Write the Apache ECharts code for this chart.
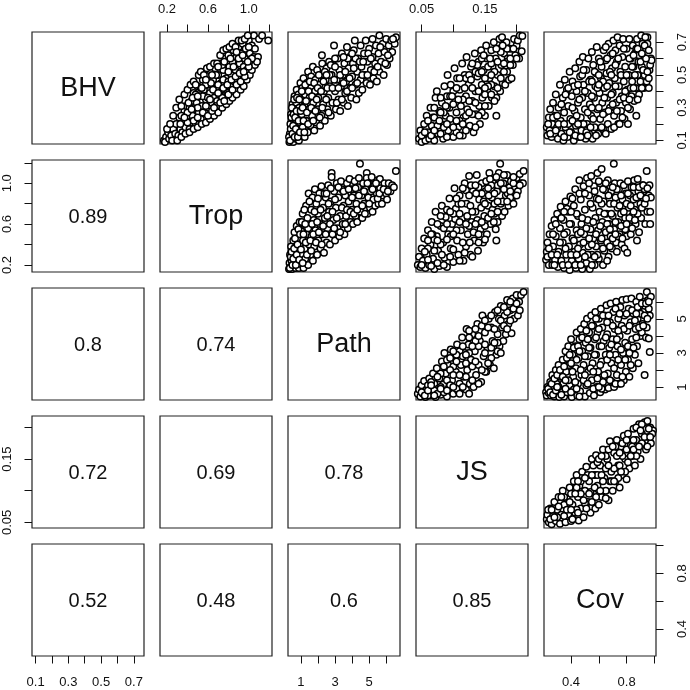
<!DOCTYPE html>
<html><head><meta charset="utf-8">
<style>html,body{margin:0;padding:0;background:#fff}#c{width:690px;height:690px}</style>
<script src="https://cdn.jsdelivr.net/npm/echarts@6/dist/echarts.min.js"></script>
</head><body><div id="c"></div>
<script>
const names = ["BHV","Trop","Path","JS","Cov"];
const corrValues = [["0.89"],["0.8","0.74"],["0.72","0.69","0.78"],["0.52","0.48","0.6","0.85"]];
const rangeBHV = [0.078,0.762], rangeTrop = [0.131,1.227], rangePath = [0.24,6.81], rangeJS = [0.0411,0.2180], rangeCov = [0.205,1.012];
const ticksBHV = [0.1,0.2,0.3,0.4,0.5,0.6,0.7], labelsBHV = [0.1,0.3,0.5,0.7];
const ticksTrop = [0.2,0.4,0.6,0.8,1.0,1.2], labelsTrop = [0.2,0.6,1.0];
const ticksPath = [1,2,3,4,5,6], labelsPath = [1,3,5];
const ticksJS = [0.05,0.10,0.15,0.20], labelsJS = [0.05,0.15];
const ticksCov = [0.4,0.6,0.8,1.0], labelsCov = [0.4,0.8];

const tropBHV = [[.17,.10],[.19,.12],[.18,.09],[.22,.11],[.21,.15],[.24,.13],[.26,.17],[.25,.10],[.28,.14],[.29,.20],[.31,.13],[.32,.24],[.33,.17],[.35,.15],[.36,.21],[.37,.28],[.38,.18],[.39,.31],[.41,.25],[.42,.17],[.43,.21],[.44,.34],[.45,.29],[.46,.39],[.47,.24],[.48,.20],[.49,.33],[.5,.43],[.51,.27],[.52,.37],[.53,.23],[.54,.31],[.55,.47],[.56,.41],[.57,.27],[.58,.35],[.59,.50],[.6,.44],[.61,.30],[.62,.39],[.63,.52],[.64,.33],[.65,.47],[.66,.36],[.67,.54],[.68,.42],[.69,.34],[.7,.50],[.71,.38],[.72,.57],[.73,.45],[.74,.36],[.75,.53],[.76,.41],[.77,.60],[.78,.48],[.79,.39],[.8,.62],[.81,.55],[.82,.43],[.83,.50],[.84,.58],[.85,.65],[.86,.46],[.87,.53],[.88,.61],[.89,.49],[.9,.67],[.91,.57],[.92,.52],[.93,.63],[.94,.69],[.95,.55],[.96,.60],[.97,.66],[.98,.53],[1.0,.71],[1.01,.63],[1.02,.58],[1.03,.68],[1.05,.74],[1.05,.61],[1.06,.66],[1.09,.61],[1.1,.72],[1.13,.74],[1.19,.71],[.4,.21],[.45,.25],[.5,.30],[.55,.37],[.6,.36],[.65,.41],[.7,.44],[.75,.47],[.8,.52],[.85,.55],[.34,.25],[.42,.30],[.48,.38],[.53,.42],[.58,.44],[.63,.45],[.68,.5],[.74,.56],[.8,.46],[.9,.6],[.2,.17],[.23,.2],[.26,.25],[.29,.3],[.32,.35],[.34,.31],[.37,.38],[.4,.41],[.43,.44],[.46,.46],[.48,.44],[.51,.5],[.53,.52],[.56,.5],[.59,.54],[.62,.55],[.66,.57],[.69,.57],[.72,.62],[.75,.65],[.78,.66],[.81,.67],[.84,.69],[.87,.67],[.9,.71],[.93,.71],[.96,.72],[.99,.74],[.3,.1],[.34,.12],[.38,.14],[.42,.15],[.46,.17],[.5,.18],[.54,.2],[.58,.21],[.62,.23],[.66,.25],[.7,.27],[.74,.3],[.78,.32],[.81,.34],[.84,.36],[.88,.38],[.92,.41],[.95,.43],[.98,.47],[1.01,.5],[1.03,.53],[1.06,.56],[1.08,.58],[.46,.22],[.5,.24],[.55,.27],[.6,.25],[.64,.28],[.68,.31],[.72,.33],[.76,.34],[.8,.38],[.84,.41],[.88,.44],[.92,.46],[.96,.49],[1.0,.55],[1.03,.6],[.58,.31],[.62,.35],[.66,.3],[.7,.39],[.75,.42],[.79,.44],[.83,.47],[.87,.49],[.91,.51],[.95,.52],[.99,.58],[.4,.27],[.44,.29],[.33,.2],[.37,.24],[.41,.33],[.45,.36],[.5,.37],[.54,.42],[.58,.47],[.64,.5],[.7,.55],[.76,.58],[.82,.6],[.88,.64],[.94,.62],[1.0,.67]];
const pathBHV = [[.32,.09],[.35,.14],[.38,.2],[.4,.1],[.42,.26],[.45,.17],[.48,.12],[.5,.32],[.52,.23],[.55,.09],[.58,.15],[.6,.28],[.62,.37],[.65,.2],[.68,.11],[.72,.33],[.75,.41],[.78,.25],[.8,.16],[.85,.38],[.88,.1],[.9,.3],[.93,.21],[.97,.45],[1.0,.13],[1.02,.35],[1.05,.26],[1.08,.42],[1.1,.18],[1.15,.48],[1.2,.31],[1.22,.12],[1.25,.38],[1.3,.22],[1.35,.45],[1.4,.15],[1.42,.52],[1.48,.29],[1.5,.36],[1.55,.19],[1.58,.42],[1.6,.49],[1.65,.25],[1.7,.55],[1.72,.33],[1.78,.16],[1.82,.4],[1.85,.47],[1.9,.21],[1.95,.53],[2.0,.29],[2.02,.36],[2.08,.44],[2.12,.19],[2.15,.5],[2.2,.25],[2.23,.62],[2.25,.57],[2.3,.32],[2.35,.4],[2.4,.22],[2.45,.47],[2.5,.54],[2.55,.29],[2.6,.36],[2.65,.58],[2.7,.43],[2.75,.25],[2.8,.5],[2.85,.33],[2.94,.68],[2.9,.56],[3.0,.4],[3.05,.29],[3.1,.47],[3.15,.6],[3.2,.35],[3.25,.53],[3.3,.28],[3.35,.43],[3.4,.63],[3.45,.5],[3.5,.33],[3.55,.57],[3.6,.39],[3.65,.46],[3.7,.67],[3.75,.31],[3.8,.54],[3.85,.61],[3.9,.42],[3.95,.36],[4.0,.49],[4.05,.57],[4.1,.65],[4.16,.71],[4.2,.44],[4.25,.35],[4.3,.52],[4.35,.6],[4.4,.39],[4.5,.68],[4.5,.47],[4.55,.55],[4.6,.41],[4.7,.63],[4.75,.5],[4.8,.71],[4.85,.45],[4.9,.58],[5.0,.66],[5.05,.44],[5.1,.53],[5.2,.72],[5.2,.61],[5.25,.48],[5.35,.57],[5.4,.68],[5.45,.46],[5.55,.63],[5.6,.74],[5.6,.52],[5.7,.58],[5.8,.69],[5.85,.5],[5.9,.64],[6.0,.72],[6.05,.56],[6.15,.68],[6.2,.6],[6.3,.71],[6.35,.64],[6.5,.69],[6.57,.73],[.3,.12],[.36,.1],[.4,.17],[.44,.24],[.47,.3],[.5,.14],[.54,.19],[.57,.26],[.6,.35],[.63,.12],[.66,.24],[.7,.17],[.74,.28],[.77,.36],[.82,.12],[.86,.22],[.9,.35],[.94,.15],[.98,.28],[1.05,.4],[1.1,.3],[1.15,.22],[1.2,.15],[1.25,.44],[1.3,.34],[1.35,.27],[1.42,.2],[1.45,.4],[1.52,.46],[1.6,.3],[1.65,.37],[1.72,.22],[1.78,.45],[1.85,.28],[1.92,.35],[1.98,.42],[2.05,.5],[2.1,.24],[2.18,.4],[2.25,.3],[2.32,.46],[2.4,.52],[2.48,.35],[2.55,.42],[2.62,.27],[2.68,.5],[2.75,.56],[2.85,.42],[2.95,.47],[3.0,.55],[3.1,.33],[3.2,.42],[3.3,.5],[3.4,.35],[3.5,.45],[3.6,.52],[3.7,.4],[3.75,.6],[3.85,.48],[4.0,.42],[4.1,.54],[4.2,.6],[4.3,.45],[4.45,.58],[4.6,.5],[4.65,.58],[4.9,.5],[4.95,.63],[5.1,.6],[5.3,.52],[5.5,.55],[5.65,.67],[5.95,.57],[6.1,.62],[6.4,.72],[3.5,.61],[4.0,.63],[3.0,.6],[2.5,.5]];
const jsBHV = [[.046,.11],[.048,.16],[.05,.09],[.052,.13],[.054,.2],[.056,.1],[.058,.25],[.06,.15],[.062,.11],[.064,.3],[.066,.19],[.068,.24],[.07,.1],[.072,.36],[.074,.4],[.076,.14],[.078,.28],[.08,.2],[.082,.33],[.084,.11],[.086,.43],[.088,.25],[.09,.37],[.091,.5],[.092,.16],[.094,.3],[.096,.44],[.098,.21],[.1,.12],[.102,.54],[.103,.35],[.105,.27],[.106,.48],[.108,.18],[.11,.41],[.112,.31],[.114,.57],[.115,.13],[.116,.24],[.118,.5],[.12,.37],[.121,.61],[.122,.29],[.124,.44],[.126,.19],[.128,.55],[.13,.34],[.132,.15],[.134,.63],[.135,.4],[.136,.26],[.138,.49],[.14,.58],[.141,.31],[.142,.2],[.144,.65],[.145,.44],[.146,.36],[.148,.53],[.15,.25],[.152,.68],[.153,.6],[.154,.4],[.156,.31],[.157,.48],[.16,.65],[.161,.36],[.162,.55],[.164,.7],[.165,.43],[.168,.25],[.167,.6],[.168,.36],[.17,.5],[.172,.66],[.173,.72],[.174,.4],[.176,.56],[.177,.73],[.178,.45],[.18,.63],[.182,.44],[.184,.7],[.185,.52],[.186,.6],[.188,.47],[.19,.66],[.192,.48],[.194,.56],[.196,.72],[.198,.62],[.2,.68],[.202,.71],[.205,.74],[.208,.645],[.209,.737],[.204,.6],[.08,.14],[.09,.3],[.1,.4],[.11,.22],[.12,.48],[.13,.26],[.14,.4],[.15,.48],[.16,.44],[.07,.3],[.085,.18],[.095,.37],[.105,.15],[.125,.34],[.135,.52],[.145,.27],[.155,.55],[.165,.52],[.175,.64],[.185,.66],[.05,.13],[.055,.15],[.06,.22],[.065,.13],[.07,.24],[.075,.19],[.08,.36],[.085,.27],[.09,.12],[.095,.23],[.1,.32],[.105,.42],[.11,.13],[.115,.35],[.12,.25],[.125,.5],[.13,.42],[.135,.18],[.14,.51],[.145,.6],[.15,.38],[.155,.43],[.16,.57],[.165,.34],[.17,.42],[.175,.48],[.18,.52],[.185,.58],[.19,.56],[.195,.66],[.2,.6],[.178,.68],[.168,.66],[.158,.6],[.148,.62],[.138,.56],[.128,.47],[.118,.42],[.108,.35],[.098,.37],[.088,.31],[.078,.22],[.13,.57],[.15,.31],[.09,.2],[.07,.16],[.12,.16],[.105,.22],[.135,.33],[.16,.5],[.17,.58],[.18,.57],[.19,.6],[.16,.38],[.145,.52],[.11,.48],[.125,.27],[.1,.18],[.08,.27],[.14,.25],[.15,.42],[.115,.2]];
const covBHV = [[.225,.18],[.23,.13],[.24,.24],[.245,.16],[.25,.29],[.26,.12],[.265,.2],[.27,.33],[.28,.14],[.285,.25],[.29,.38],[.3,.18],[.305,.11],[.31,.3],[.32,.44],[.325,.22],[.33,.14],[.34,.36],[.345,.1],[.35,.27],[.355,.47],[.36,.18],[.37,.41],[.375,.12],[.38,.31],[.39,.52],[.395,.23],[.4,.15],[.405,.37],[.41,.46],[.42,.1],[.425,.28],[.43,.54],[.435,.19],[.44,.4],[.45,.33],[.455,.12],[.46,.58],[.465,.49],[.47,.24],[.475,.16],[.48,.36],[.485,.61],[.49,.44],[.5,.29],[.505,.11],[.51,.53],[.515,.2],[.52,.39],[.525,.6],[.53,.14],[.535,.32],[.54,.47],[.545,.25],[.55,.64],[.555,.11],[.56,.56],[.565,.36],[.57,.18],[.575,.43],[.58,.51],[.585,.67],[.59,.29],[.595,.14],[.6,.6],[.605,.39],[.61,.23],[.615,.48],[.62,.55],[.625,.33],[.63,.17],[.635,.65],[.64,.42],[.645,.27],[.65,.59],[.655,.51],[.66,.36],[.665,.2],[.67,.69],[.675,.45],[.68,.3],[.685,.62],[.69,.17],[.695,.54],[.7,.39],[.705,.71],[.71,.25],[.715,.48],[.72,.65],[.725,.33],[.73,.58],[.735,.73],[.74,.2],[.745,.43],[.75,.68],[.755,.52],[.76,.28],[.765,.37],[.77,.61],[.775,.72],[.78,.46],[.785,.23],[.79,.55],[.795,.33],[.8,.66],[.805,.41],[.81,.2],[.815,.5],[.82,.72],[.825,.29],[.83,.6],[.835,.37],[.84,.46],[.845,.68],[.85,.55],[.855,.34],[.86,.63],[.865,.42],[.87,.25],[.875,.72],[.88,.5],[.885,.58],[.89,.38],[.895,.66],[.9,.46],[.91,.55],[.915,.69],[.92,.61],[.925,.42],[.93,.5],[.95,.73],[.95,.69],[.96,.42],[.965,.53],[.97,.56],[.975,.6],[.98,.59],[.945,.46],[.905,.74],[.935,.73],[.96,.48],[.235,.2],[.25,.14],[.27,.24],[.29,.16],[.31,.2],[.33,.32],[.35,.12],[.36,.38],[.38,.2],[.39,.15],[.41,.3],[.42,.43],[.43,.13],[.44,.25],[.46,.35],[.47,.12],[.48,.5],[.49,.2],[.5,.4],[.51,.15],[.52,.27],[.53,.46],[.54,.18],[.55,.37],[.56,.23],[.57,.52],[.58,.13],[.59,.42],[.6,.3],[.61,.58],[.62,.18],[.63,.46],[.64,.36],[.65,.14],[.66,.6],[.67,.28],[.68,.52],[.69,.38],[.7,.63],[.71,.18],[.72,.43],[.73,.28],[.74,.6],[.75,.35],[.76,.5],[.77,.24],[.78,.66],[.79,.4],[.8,.5],[.81,.3],[.82,.6],[.83,.42],[.84,.55],[.85,.42],[.86,.5],[.87,.66],[.88,.35],[.89,.62],[.9,.58],[.91,.42],[.92,.53],[.93,.68],[.94,.6],[.95,.52],[.96,.65],[.38,.42],[.41,.22],[.45,.44],[.49,.53],[.52,.13],[.55,.46],[.6,.5],[.63,.26],[.66,.43],[.69,.5],[.72,.56],[.75,.2],[.78,.36],[.82,.35],[.85,.62],[.88,.66],[.91,.63],[.55,.3],[.45,.2],[.35,.2],[.3,.25],[.7,.32],[.65,.67],[.6,.44]];
const pathTrop = [[.3,.16],[.33,.22],[.36,.3],[.4,.18],[.42,.38],[.45,.24],[.48,.16],[.52,.32],[.55,.44],[.58,.2],[.62,.52],[.65,.28],[.68,.17],[.72,.38],[.75,.58],[.78,.24],[.82,.46],[.85,.32],[.88,.17],[.92,.62],[.95,.4],[1.0,.21],[1.02,.53],[1.05,.3],[1.1,.7],[1.12,.44],[1.15,.17],[1.18,.6],[1.22,.36],[1.25,.26],[1.3,.78],[1.32,.5],[1.38,.66],[1.42,.2],[1.45,.9],[1.48,.4],[1.5,.58],[1.55,.3],[1.6,.74],[1.62,.48],[1.68,.86],[1.7,.24],[1.75,.64],[1.78,.38],[1.82,.94],[1.85,.54],[1.9,.8],[1.95,.3],[2.0,.7],[2.02,.44],[2.08,.9],[2.12,.6],[2.15,.36],[2.2,.97],[2.25,.5],[2.3,.76],[2.35,.32],[2.4,.66],[2.45,.86],[2.5,.42],[2.55,.56],[2.6,.98],[2.65,.72],[2.7,.4],[2.75,.82],[2.8,1.1],[2.8,1.06],[2.85,.5],[2.9,.64],[2.95,.92],[3.0,.44],[3.05,.76],[3.1,1.0],[3.15,.56],[3.2,.86],[3.25,.48],[3.3,.68],[3.35,1.02],[3.4,.94],[3.45,.6],[3.5,.78],[3.55,.5],[3.6,.88],[3.65,.68],[3.7,1.0],[3.75,.56],[3.8,.82],[3.85,1.04],[3.9,.62],[3.95,.94],[4.0,.74],[4.05,.6],[4.1,.88],[4.15,1.02],[4.2,.68],[4.25,.8],[4.3,.62],[4.35,.96],[4.4,1.05],[4.46,1.19],[4.5,.72],[4.55,.88],[4.6,.66],[4.65,1.0],[4.7,.8],[4.8,.94],[4.86,1.1],[4.86,1.05],[4.9,.7],[4.95,.86],[5.0,1.0],[5.05,.76],[5.1,.92],[5.15,1.06],[5.2,.72],[5.25,.84],[5.3,.98],[5.35,.78],[5.45,.9],[5.5,1.03],[5.55,.8],[5.63,1.04],[5.65,.95],[5.75,.8],[5.8,.88],[5.9,1.0],[6.0,.9],[6.05,.84],[6.15,1.0],[6.25,.92],[6.35,.98],[6.45,.96],[6.57,1.12],[.35,.17],[.4,.28],[.45,.33],[.5,.2],[.55,.26],[.6,.36],[.65,.46],[.7,.2],[.75,.3],[.8,.4],[.85,.55],[.9,.25],[.95,.5],[1.0,.35],[1.05,.62],[1.1,.22],[1.15,.5],[1.2,.74],[1.28,.42],[1.35,.3],[1.42,.56],[1.5,.82],[1.55,.44],[1.6,.34],[1.65,.6],[1.72,.5],[1.8,.72],[1.88,.42],[1.95,.62],[2.0,.85],[2.05,.52],[2.15,.74],[2.22,.4],[2.3,.58],[2.38,.9],[2.45,.5],[2.55,.68],[2.62,.8],[2.7,.6],[2.75,.95],[2.85,.72],[2.95,.56],[3.0,.84],[3.1,.66],[3.2,.96],[3.3,.52],[3.4,.76],[3.5,.92],[3.6,.6],[3.7,.74],[3.8,.94],[3.9,.72],[4.0,.86],[4.1,.7],[4.2,.95],[4.3,.74],[4.4,.88],[4.6,.78],[4.7,.92],[4.75,.7],[4.9,1.0],[5.0,.8],[5.2,.94],[5.4,1.0],[5.5,.85],[5.6,.9],[5.85,.94],[6.1,.92],[1.25,.6],[2.5,.9]];
const jsTrop = [[.044,.2],[.046,.28],[.048,.18],[.05,.36],[.052,.24],[.054,.46],[.056,.17],[.058,.3],[.06,.54],[.062,.2],[.064,.4],[.066,.62],[.068,.26],[.07,.16],[.072,.72],[.074,.48],[.076,.34],[.078,.19],[.08,.58],[.082,.78],[.084,.42],[.086,.27],[.088,.67],[.09,.18],[.092,.5],[.094,.85],[.096,.36],[.098,.6],[.1,.23],[.102,.95],[.104,.75],[.106,.44],[.108,.3],[.11,.88],[.112,.54],[.114,.66],[.116,.24],[.118,1.0],[.12,.38],[.121,.8],[.123,.5],[.125,1.07],[.127,.3],[.129,.62],[.131,.92],[.133,.44],[.135,.72],[.137,1.08],[.139,.34],[.141,.84],[.143,.55],[.145,1.0],[.147,.42],[.149,.68],[.151,.92],[.153,.5],[.155,.78],[.157,1.1],[.159,.6],[.161,.86],[.163,1.0],[.165,.7],[.167,.55],[.168,.44],[.169,.92],[.17,.62],[.172,1.1],[.174,1.19],[.175,.8],[.177,.68],[.179,1.0],[.181,.72],[.183,.88],[.185,1.08],[.187,.78],[.189,.96],[.191,1.02],[.193,.86],[.195,.8],[.197,.94],[.2,1.05],[.202,.92],[.205,1.09],[.207,1.0],[.21,1.0],[.211,1.12],[.06,.36],[.067,.5],[.075,.6],[.082,.3],[.09,.74],[.096,.48],[.103,.65],[.108,.8],[.115,.42],[.12,.93],[.127,.78],[.132,.52],[.138,.64],[.144,.76],[.15,.58],[.156,.88],[.162,.74],[.17,.98],[.178,.82],[.186,.9],[.07,.34],[.085,.56],[.1,.35],[.11,.62],[.125,.58],[.14,.96],[.152,1.02],[.164,.62],[.175,1.0],[.19,.86],[.05,.2],[.055,.33],[.06,.25],[.065,.19],[.07,.45],[.075,.22],[.08,.4],[.085,.2],[.09,.6],[.095,.28],[.1,.7],[.105,.54],[.11,.24],[.113,.8],[.118,.32],[.122,.68],[.126,.42],[.13,.28],[.135,.6],[.14,.5],[.145,.9],[.15,.45],[.155,.66],[.16,.98],[.165,.8],[.17,.72],[.18,.94],[.185,.82],[.19,.92],[.195,1.0],[.2,.88],[.205,.98],[.128,.98],[.136,.9],[.148,.82],[.158,1.04],[.168,1.06],[.18,1.08],[.195,1.06],[.09,.45],[.1,.5],[.11,.7],[.12,.6],[.13,.72],[.14,.42],[.15,.8],[.16,.7],[.17,.82],[.08,.68],[.075,.44],[.065,.5],[.06,.44],[.095,.72],[.105,.85],[.115,.95],[.125,.88],[.135,.98],[.145,.62],[.155,.95],[.165,.9]];
const covTrop = [[.22,.25],[.225,.33],[.23,.42],[.24,.2],[.245,.5],[.25,.28],[.26,.58],[.265,.2],[.27,.38],[.28,.64],[.285,.25],[.29,.48],[.3,.7],[.305,.18],[.31,.33],[.32,.56],[.325,.77],[.33,.24],[.34,.42],[.345,.64],[.35,.17],[.36,.82],[.365,.3],[.37,.52],[.38,.72],[.385,.38],[.39,.15],[.395,.87],[.4,.6],[.405,.24],[.41,.46],[.42,.78],[.425,.33],[.43,.94],[.435,.17],[.44,.54],[.45,.68],[.455,.26],[.46,1.03],[.465,.4],[.47,.84],[.475,.6],[.48,.16],[.485,.32],[.49,.97],[.495,.5],[.5,.74],[.51,.22],[.515,1.05],[.52,.64],[.525,.38],[.53,.88],[.535,.16],[.54,.55],[.545,1.07],[.55,.3],[.555,.76],[.56,.46],[.565,.97],[.57,.2],[.575,.66],[.58,.38],[.585,.85],[.59,1.1],[.595,.54],[.6,.26],[.605,.72],[.61,1.0],[.615,.44],[.62,1.14],[.625,.62],[.63,.2],[.635,.82],[.64,.34],[.645,.93],[.65,.52],[.655,.7],[.66,.42],[.665,1.03],[.67,.28],[.675,.6],[.68,.8],[.685,.48],[.69,.92],[.695,.36],[.7,.68],[.708,1.19],[.71,.55],[.715,1.0],[.72,.86],[.725,.42],[.73,.33],[.735,.76],[.74,.62],[.745,.94],[.75,.5],[.755,1.0],[.76,.7],[.765,.4],[.77,.84],[.775,.58],[.78,.98],[.785,.36],[.79,.66],[.795,.9],[.8,.48],[.805,.32],[.81,1.02],[.815,.76],[.82,.58],[.825,.88],[.83,.5],[.835,.96],[.84,.68],[.85,.84],[.855,1.03],[.86,.74],[.865,.6],[.875,.44],[.88,1.04],[.885,.92],[.89,.52],[.9,.8],[.905,.66],[.915,.98],[.92,.86],[.935,.6],[.945,1.12],[.945,.96],[.95,.72],[.96,.88],[.965,.98],[.97,.6],[.975,.86],[.97,.72],[.93,.94],[.23,.28],[.24,.36],[.26,.3],[.27,.5],[.28,.2],[.29,.6],[.3,.3],[.32,.42],[.33,.66],[.34,.2],[.35,.5],[.36,.36],[.37,.75],[.38,.2],[.39,.6],[.4,.3],[.41,.85],[.42,.44],[.43,.2],[.44,.7],[.45,.36],[.46,.9],[.47,.2],[.48,.66],[.49,.42],[.5,.9],[.51,.56],[.52,.3],[.53,1.0],[.54,.8],[.55,.2],[.56,.62],[.57,.92],[.58,.5],[.59,.3],[.6,1.02],[.61,.58],[.62,.8],[.63,.36],[.64,.7],[.65,1.0],[.66,.6],[.67,.88],[.68,.38],[.69,.7],[.7,.46],[.71,.8],[.72,.62],[.73,.94],[.74,.48],[.75,.78],[.76,.88],[.77,.46],[.78,.72],[.79,.55],[.8,.8],[.81,.9],[.82,.66],[.83,.78],[.84,.56],[.85,.96],[.86,.64],[.87,.86],[.88,.7],[.89,.96],[.9,.88],[.91,.76],[.92,.98],[.93,.8],[.94,.85],[.95,.95],[.66,.24],[.55,.4],[.5,.28],[.45,.5],[.4,.72],[.35,.72],[.6,.84],[.68,.55],[.72,.5],[.76,.58],[.62,.46],[.44,.3],[.57,.28],[.63,.94],[.7,.96],[.8,.6],[.85,.72],[.53,.46],[.47,.52]];
const jsPath = [[.044,.6],[.046,.85],[.048,.45],[.05,1.1],[.052,.6],[.054,1.35],[.056,.42],[.058,.85],[.06,1.1],[.062,1.5],[.064,.5],[.066,.75],[.068,1.8],[.07,1.2],[.072,.42],[.074,2.1],[.076,.9],[.078,1.5],[.08,.55],[.082,2.5],[.084,1.15],[.086,3.0],[.088,1.8],[.09,.45],[.092,2.3],[.094,.9],[.096,3.2],[.098,1.4],[.1,.6],[.102,2.7],[.104,1.9],[.106,3.5],[.108,.75],[.11,1.2],[.112,2.3],[.114,3.9],[.116,1.6],[.118,3.0],[.12,.85],[.121,4.4],[.122,2.0],[.124,3.5],[.126,1.2],[.128,2.6],[.13,4.1],[.132,1.0],[.134,3.1],[.136,1.7],[.138,4.7],[.14,2.3],[.142,3.7],[.144,1.3],[.146,5.2],[.148,2.8],[.15,4.2],[.152,1.9],[.154,3.3],[.156,5.0],[.158,2.3],[.16,4.5],[.162,3.7],[.164,2.1],[.166,5.4],[.168,2.9],[.17,4.1],[.172,5.0],[.173,3.4],[.175,5.75],[.177,4.5],[.179,3.7],[.181,5.2],[.183,4.1],[.185,6.1],[.187,4.7],[.19,5.5],[.192,4.15],[.194,6.2],[.196,5.0],[.198,5.7],[.2,6.4],[.202,5.2],[.204,6.0],[.207,6.4],[.211,6.58],[.06,.5],[.07,.8],[.08,1.8],[.09,1.4],[.1,2.2],[.11,3.1],[.12,1.6],[.13,2.2],[.14,3.4],[.15,3.0],[.16,2.7],[.17,3.1],[.15,1.9],[.135,4.4],[.125,3.0],[.115,2.8],[.105,.9],[.095,2.0],[.085,.7],[.075,.6],[.065,1.3],[.05,.7],[.055,.5],[.06,.8],[.065,1.1],[.07,.5],[.075,1.6],[.08,1.0],[.085,2.2],[.09,2.6],[.095,1.1],[.1,1.7],[.105,2.5],[.11,.6],[.115,3.4],[.12,2.4],[.125,3.9],[.13,1.4],[.135,2.5],[.14,1.2],[.145,2.0],[.15,3.5],[.155,2.4],[.16,3.3],[.165,4.4],[.17,3.6],[.175,4.9],[.18,4.6],[.185,5.4],[.19,4.9],[.195,5.6],[.2,5.9],[.205,5.5],[.095,2.7],[.105,2.9],[.115,1.0],[.125,4.3],[.135,3.7],[.145,4.6],[.155,4.5],[.165,3.6],[.175,3.0],[.185,4.4],[.1,1.0],[.11,1.7],[.12,2.9],[.13,3.4],[.14,4.0],[.15,4.9],[.16,5.2],[.17,5.5],[.18,5.7],[.19,6.0],[.08,.9],[.09,.8],[.1,3.1],[.125,.6]];
const covPath = [[.22,.7],[.225,.5],[.23,1.0],[.24,.65],[.25,1.3],[.255,.5],[.265,1.7],[.27,.9],[.28,.45],[.29,2.0],[.295,1.2],[.3,.6],[.31,2.3],[.315,.42],[.32,1.6],[.33,.85],[.34,2.6],[.345,1.2],[.35,.45],[.36,3.1],[.365,1.9],[.37,.7],[.38,3.4],[.385,2.3],[.39,1.1],[.4,3.8],[.405,.42],[.41,2.9],[.415,1.6],[.42,.85],[.43,3.4],[.435,2.1],[.44,4.2],[.445,.5],[.45,1.2],[.455,2.7],[.46,3.8],[.465,.75],[.47,4.4],[.475,1.7],[.48,3.1],[.49,2.3],[.495,4.7],[.5,.45],[.505,3.6],[.51,1.1],[.515,5.0],[.52,2.8],[.525,1.9],[.53,4.2],[.535,.65],[.54,3.3],[.545,5.2],[.55,1.4],[.555,2.4],[.56,4.6],[.565,.5],[.57,3.8],[.575,5.4],[.58,2.9],[.585,1.0],[.59,4.2],[.595,1.9],[.6,5.0],[.605,3.4],[.61,.7],[.615,5.6],[.62,2.5],[.625,4.5],[.63,1.3],[.635,3.7],[.64,5.2],[.645,.85],[.65,2.9],[.655,5.8],[.66,4.1],[.665,1.8],[.67,.95],[.675,3.3],[.68,4.8],[.685,5.9],[.69,2.4],[.695,1.3],[.7,3.8],[.705,5.4],[.71,1.0],[.715,4.4],[.72,2.9],[.725,6.0],[.73,1.7],[.735,3.4],[.74,5.0],[.745,1.2],[.75,4.0],[.755,5.7],[.76,2.3],[.765,4.6],[.77,6.1],[.775,3.0],[.78,1.4],[.785,5.2],[.79,3.6],[.795,1.9],[.8,6.15],[.805,4.3],[.81,2.6],[.815,5.6],[.82,1.6],[.825,3.2],[.83,4.8],[.835,6.2],[.84,3.8],[.845,2.1],[.85,5.3],[.86,2.9],[.865,4.4],[.87,6.0],[.875,3.4],[.88,5.0],[.885,2.4],[.89,5.7],[.895,6.3],[.9,4.0],[.91,4.2],[.915,4.7],[.92,5.4],[.93,1.7],[.93,6.0],[.94,3.9],[.945,4.5],[.946,6.58],[.955,6.1],[.96,3.85],[.967,5.2],[.967,3.05],[.975,6.3],[.96,5.6],[.235,.9],[.25,.7],[.26,1.2],[.27,.55],[.28,1.5],[.29,.8],[.3,1.7],[.31,1.0],[.32,2.0],[.33,.55],[.34,1.6],[.35,2.2],[.36,.9],[.37,2.7],[.38,1.4],[.39,2.9],[.4,.7],[.41,1.9],[.42,3.3],[.43,1.3],[.44,2.6],[.45,3.4],[.46,.45],[.47,2.0],[.48,3.9],[.49,1.4],[.5,2.8],[.51,4.3],[.52,1.2],[.53,3.3],[.54,2.1],[.55,4.6],[.56,.9],[.57,2.9],[.58,3.9],[.59,1.5],[.6,4.4],[.61,2.3],[.62,3.4],[.63,5.2],[.64,1.7],[.65,3.9],[.66,2.6],[.67,5.2],[.68,1.4],[.69,3.5],[.7,4.6],[.71,2.1],[.72,5.6],[.73,3.8],[.74,2.6],[.75,5.3],[.76,3.2],[.77,1.6],[.78,4.4],[.79,2.6],[.8,5.3],[.81,3.4],[.82,4.6],[.83,2.3],[.84,5.5],[.85,3.3],[.86,4.9],[.87,3.9],[.88,5.7],[.89,4.5],[.9,5.3],[.91,5.9],[.92,4.6],[.93,5.2],[.94,5.9],[.95,5.0],[.96,6.0],[.5,1.7],[.44,.9],[.36,1.4],[.3,1.0],[.62,.9],[.68,2.9],[.56,1.9],[.6,1.0],[.72,1.2],[.76,1.2],[.66,4.8],[.74,4.3],[.82,3.0],[.87,5.3],[.58,5.0],[.52,3.8],[.46,3.1],[.4,2.4]];
const covJS = [[.225,.055],[.23,.062],[.24,.05],[.25,.072],[.26,.047],[.27,.06],[.28,.082],[.29,.052],[.3,.07],[.31,.09],[.32,.048],[.33,.062],[.34,.1],[.35,.078],[.36,.05],[.37,.088],[.38,.063],[.39,.105],[.4,.052],[.41,.078],[.42,.115],[.43,.065],[.44,.125],[.45,.09],[.455,.053],[.46,.108],[.47,.072],[.48,.13],[.49,.058],[.5,.1],[.51,.138],[.52,.082],[.53,.115],[.54,.065],[.55,.15],[.56,.095],[.57,.125],[.575,.072],[.58,.156],[.59,.108],[.6,.078],[.61,.14],[.62,.09],[.63,.165],[.64,.12],[.65,.1],[.66,.15],[.67,.085],[.68,.178],[.69,.13],[.7,.1],[.71,.16],[.72,.115],[.73,.18],[.74,.14],[.75,.105],[.76,.17],[.77,.125],[.78,.187],[.79,.15],[.8,.118],[.81,.19],[.82,.135],[.83,.172],[.84,.155],[.85,.198],[.86,.14],[.87,.18],[.88,.162],[.89,.205],[.9,.15],[.91,.19],[.92,.172],[.93,.208],[.94,.165],[.95,.21],[.96,.185],[.97,.2],[.975,.175],[.99,.195],[.985,.19],[.96,.198],[.25,.055],[.3,.058],[.35,.09],[.4,.095],[.44,.07],[.47,.095],[.5,.08],[.52,.125],[.54,.098],[.56,.14],[.59,.125],[.62,.125],[.65,.135],[.68,.115],[.71,.135],[.74,.12],[.77,.155],[.8,.165],[.84,.17],[.87,.155],[.91,.175],[.44,.105],[.58,.09],[.65,.155],[.72,.17],[.235,.07],[.26,.07],[.28,.058],[.31,.075],[.33,.09],[.35,.06],[.37,.07],[.39,.082],[.41,.055],[.43,.095],[.45,.065],[.47,.115],[.49,.085],[.51,.072],[.53,.095],[.55,.082],[.57,.105],[.59,.145],[.61,.1],[.63,.115],[.65,.088],[.67,.14],[.69,.115],[.71,.115],[.73,.155],[.75,.16],[.77,.175],[.79,.13],[.81,.145],[.83,.155],[.85,.165],[.87,.2],[.89,.17],[.91,.205],[.93,.185],[.95,.17],[.97,.185],[.67,.165],[.6,.15],[.55,.125],[.5,.12],[.45,.115],[.4,.07],[.75,.14],[.8,.18],[.85,.18],[.9,.195],[.7,.17],[.62,.155],[.76,.13]];

const ranges = [rangeBHV,rangeTrop,rangePath,rangeJS,rangeCov];
const ticks = [ticksBHV,ticksTrop,ticksPath,ticksJS,ticksCov];
const labels = [labelsBHV,labelsTrop,labelsPath,labelsJS,labelsCov];
const decimals = [1,1,0,2,1];
const panels = {"0-1":tropBHV,"0-2":pathBHV,"0-3":jsBHV,"0-4":covBHV,"1-2":pathTrop,"1-3":jsTrop,"1-4":covTrop,"2-3":jsPath,"2-4":covPath,"3-4":covJS};

const LEFT=32, STEP=128, SIZE=112, FONT='"Liberation Sans", Arial, sans-serif', INK='#111';
const grid=[],xAxis=[],yAxis=[],series=[],graphic=[];
function axis(v,pos,show,rotate,margin){
  return {type:'value',min:ranges[v][0],max:ranges[v][1],position:pos,scale:true,silent:true,
    splitLine:{show:false},axisLine:{show:false},
    axisTick:{show,length:7.5,lineStyle:{color:INK,width:1},customValues:ticks[v]},
    axisLabel:{show,rotate,margin,customValues:labels[v],color:INK,fontFamily:FONT,fontSize:13,
      formatter:val=>val.toFixed(decimals[v])}};
}
for(let r=0;r<5;r++)for(let c=0;c<5;c++){
  const i=grid.length;
  grid.push({left:LEFT+STEP*c,top:LEFT+STEP*r,width:SIZE,height:SIZE,show:true,borderColor:'#222',borderWidth:1.2,backgroundColor:'#fff'});
  const top=r===0&&c%2===1, bottom=r===4&&c%2===0, lft=c===0&&r%2===1, right=c===4&&r%2===0;
  xAxis.push({gridIndex:i,...axis(c,top?'top':'bottom',top||bottom,0,top?16:20)});
  yAxis.push({gridIndex:i,...axis(r,right?'right':'left',lft||right,90,lft?18:20)});
  const data=panels[r+'-'+c];
  if(data)series.push({type:'scatter',xAxisIndex:i,yAxisIndex:i,data,symbol:'circle',symbolSize:6.5,
    itemStyle:{color:'#fff',borderColor:'#000',borderWidth:1.5,opacity:1},animation:false,silent:true,large:false,progressive:0});
  const text=r===c?names[r]:(r>c?corrValues[r-1][c]:null);
  if(text)graphic.push({type:'text',x:LEFT+STEP*c+SIZE/2,y:LEFT+STEP*r+SIZE/2+1,z:50,silent:true,
    style:{text,fill:'#111',font:(r===c?27:20)+'px '+FONT,textAlign:'center',textVerticalAlign:'middle'}});
}
const chart=echarts.init(document.getElementById('c'),null,{renderer:'canvas'});
chart.setOption({animation:false,backgroundColor:'#fff',grid,xAxis,yAxis,series,graphic});
</script></body></html>
